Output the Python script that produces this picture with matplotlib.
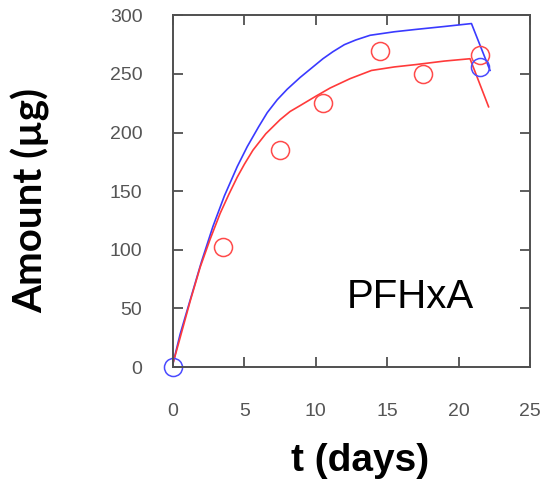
import matplotlib.pyplot as plt

# model curves
blue_t = [0, 0.5, 1.2, 2.0, 2.8, 3.6, 4.5, 5.2, 6.0, 6.6, 7.3, 8.0, 8.9, 9.7,
          10.5, 11.2, 12.0, 12.8, 13.8, 15.5, 17.0, 19.0, 20.9, 22.2]
blue_y = [3, 28, 57, 90, 120, 146, 171, 188, 205, 217, 228, 237, 247, 255,
          263, 269, 275, 279, 283, 286, 288, 290.5, 293, 253]
red_t = [0, 0.5, 1.2, 1.9, 2.6, 3.3, 3.9, 4.5, 5.0, 5.6, 6.5, 7.5, 8.2, 8.9,
         10.0, 11.0, 12.4, 13.9, 15.5, 17.0, 19.0, 20.8, 22.1]
red_y = [3, 25, 56, 85, 109, 131, 147, 162, 173, 185, 199, 211, 218, 223,
         231, 238, 246, 253, 256, 258, 261, 263, 222]

# measured points
red_pts_t = [3.5, 7.5, 10.5, 14.5, 17.5, 21.5]
red_pts_y = [102, 185, 225, 270, 250, 266]
blue_pts_t = [0, 21.5]
blue_pts_y = [0, 256]

xticks = [0, 5, 10, 15, 20, 25]
yticks = [0, 50, 100, 150, 200, 250, 300]

fig = plt.figure(figsize=(5.45, 4.8), dpi=100)
ax = fig.add_axes([0.3174, 0.2354, 0.6551, 0.7326])

ax.plot(blue_t, blue_y, color='#3a3aff', lw=1.2)
ax.plot(red_t, red_y, color='#ff3a3a', lw=1.2)
ax.plot(red_pts_t, red_pts_y, 'o', mfc='none', mec='#ff4a4a', ms=13, mew=1.1, clip_on=False)
ax.plot(blue_pts_t, blue_pts_y, 'o', mfc='none', mec='#4a4aff', ms=13, mew=1.1, clip_on=False)

ax.set_xlim(0, 25)
ax.set_ylim(0, 300)
ax.set_xticks(xticks)
ax.set_yticks(yticks)
ax.tick_params(direction='in', length=7, width=1.3, color='#505050',
               top=True, right=True, labelsize=14, labelcolor='#555555')
ax.tick_params(axis='y', pad=22)
ax.tick_params(axis='x', pad=26)
for lab in ax.get_xticklabels() + ax.get_yticklabels():
    lab.set_family('Liberation Sans')
for s in ax.spines.values():
    s.set_color('#505050')
    s.set_linewidth(1.4)

ax.set_xlabel('t (days)', fontsize=28, fontweight='bold', family='Liberation Sans')
ax.set_ylabel('Amount (µg)', fontsize=29, fontweight='bold', family='Lato')
ax.xaxis.set_label_coords(0.524, -0.217)
ax.yaxis.set_label_coords(-0.345, 0.474)

ax.text(0.664, 0.2, 'PFHxA', transform=ax.transAxes, fontsize=29,
        family='Liberation Sans', ha='center', va='center')

fig.savefig('out.png', dpi=100)
